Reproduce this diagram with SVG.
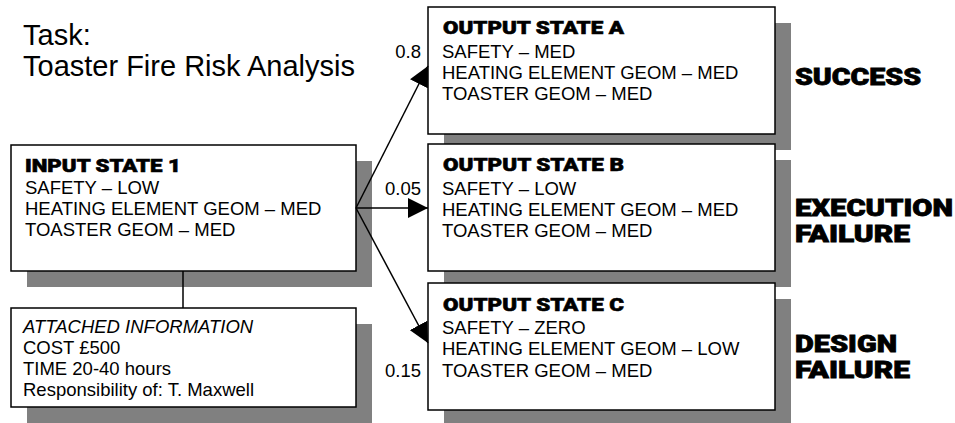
<svg xmlns="http://www.w3.org/2000/svg" width="955" height="423" viewBox="0 0 955 423">
<style>
.bg{fill:#ffffff}
.sh{fill:#808080}
.box{fill:#ffffff;stroke:#000;stroke-width:1.5}
.t{font-family:"Liberation Sans",Arial,sans-serif;font-size:18.5px;fill:#000}
.it{font-style:italic}
.hd{font-family:"Arial Black","Roboto","Lato","Liberation Sans",sans-serif;font-weight:900;font-size:18.67px;fill:#000;stroke:#000;stroke-width:0.6}
.big{font-family:"Arial Black","Roboto","Lato","Liberation Sans",sans-serif;font-weight:900;font-size:24px;fill:#000;stroke:#000;stroke-width:0.8}
.title{font-family:"Liberation Sans",Arial,sans-serif;font-size:29px;fill:#000}
.ln{stroke:#000;stroke-width:1.5;fill:none}
</style>
<defs>
<marker id="ah" markerUnits="userSpaceOnUse" markerWidth="20" markerHeight="20" refX="20" refY="10" orient="auto" viewBox="0 0 20 20">
<path d="M0,0 L20,10 L0,20 z" fill="#000"/>
</marker>
</defs>
<rect class="bg" x="0" y="0" width="955" height="423"/>

<g id="title">
<text class="title" x="23" y="45">Task:</text>
<text class="title" x="23" y="76">Toaster Fire Risk Analysis</text>
</g>

<g id="input1">
<rect class="sh" x="27" y="161" width="345" height="126"/>
<rect class="box" x="11" y="145" width="345" height="126"/>
<text class="hd" x="25" y="172" textLength="156" lengthAdjust="spacingAndGlyphs">INPUT STATE 1</text>
<text class="t" x="25" y="194">SAFETY – LOW</text>
<text class="t" x="25" y="215">HEATING ELEMENT GEOM – MED</text>
<text class="t" x="25" y="236">TOASTER GEOM – MED</text>
</g>

<g id="attached">
<rect class="sh" x="27" y="324" width="345" height="99"/>
<rect class="box" x="11" y="308" width="345" height="99"/>
<text class="t it" x="23" y="333">ATTACHED INFORMATION</text>
<text class="t" x="23" y="354">COST £500</text>
<text class="t" x="23" y="375">TIME 20-40 hours</text>
<text class="t" x="23" y="396">Responsibility of: T. Maxwell</text>
</g>

<g id="outputA">
<rect class="sh" x="444" y="23" width="347" height="127"/>
<rect class="box" x="428" y="7" width="347" height="127"/>
<text class="hd" x="443" y="34" textLength="181" lengthAdjust="spacingAndGlyphs">OUTPUT STATE A</text>
<text class="t" x="442" y="58">SAFETY – MED</text>
<text class="t" x="442" y="79">HEATING ELEMENT GEOM – MED</text>
<text class="t" x="442" y="100">TOASTER GEOM – MED</text>
</g>

<g id="outputB">
<rect class="sh" x="444" y="160" width="347" height="127"/>
<rect class="box" x="428" y="144" width="347" height="127"/>
<text class="hd" x="443" y="171" textLength="181" lengthAdjust="spacingAndGlyphs">OUTPUT STATE B</text>
<text class="t" x="442" y="195">SAFETY – LOW</text>
<text class="t" x="442" y="216">HEATING ELEMENT GEOM – MED</text>
<text class="t" x="442" y="237">TOASTER GEOM – MED</text>
</g>

<g id="outputC">
<rect class="sh" x="444" y="299" width="347" height="127"/>
<rect class="box" x="428" y="283" width="347" height="127"/>
<text class="hd" x="443" y="311" textLength="181" lengthAdjust="spacingAndGlyphs">OUTPUT STATE C</text>
<text class="t" x="442" y="334">SAFETY – ZERO</text>
<text class="t" x="442" y="355">HEATING ELEMENT GEOM – LOW</text>
<text class="t" x="442" y="377">TOASTER GEOM – MED</text>
</g>

<g id="outcomes">
<text class="big" x="795" y="85" textLength="126" lengthAdjust="spacingAndGlyphs">SUCCESS</text>
<text class="big" x="795" y="216" textLength="158" lengthAdjust="spacingAndGlyphs">EXECUTION</text>
<text class="big" x="795" y="242" textLength="115" lengthAdjust="spacingAndGlyphs">FAILURE</text>
<text class="big" x="795" y="352" textLength="102" lengthAdjust="spacingAndGlyphs">DESIGN</text>
<text class="big" x="795" y="378" textLength="115" lengthAdjust="spacingAndGlyphs">FAILURE</text>
</g>

<g id="connectors">
<line class="ln" x1="183" y1="271" x2="183" y2="308"/>
<line class="ln" x1="356" y1="208" x2="428" y2="66" marker-end="url(#ah)"/>
<line class="ln" x1="356" y1="208" x2="428" y2="208" marker-end="url(#ah)"/>
<line class="ln" x1="356" y1="208" x2="428" y2="343" marker-end="url(#ah)"/>
<text class="t" x="421" y="58" text-anchor="end">0.8</text>
<text class="t" x="421" y="195" text-anchor="end">0.05</text>
<text class="t" x="421" y="377" text-anchor="end">0.15</text>
</g>
</svg>
